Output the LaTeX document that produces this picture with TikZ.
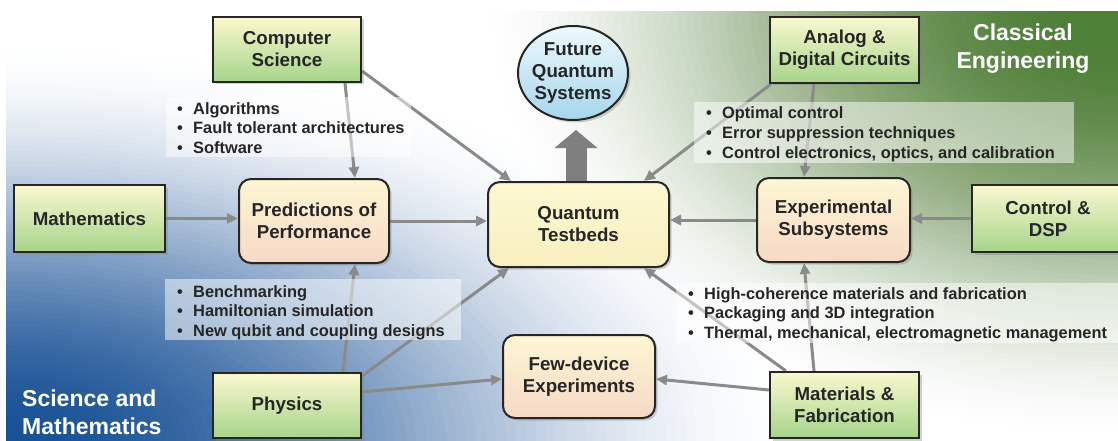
\documentclass[tikz,border=0pt]{standalone}
\usepackage{fontspec}
\setmainfont{Liberation Sans}
\usetikzlibrary{arrows.meta,shapes.geometric,shadows,calc}

\definecolor{sblue}{HTML}{1A5296}
\definecolor{sgreen}{HTML}{4F8038}
\definecolor{agray}{HTML}{8A8A8A}
\definecolor{bgray}{HTML}{7F7F7F}
\definecolor{gtop}{HTML}{FBF8D0}
\definecolor{gbot}{HTML}{A6D48A}
\definecolor{ptop}{HTML}{FDF6D4}
\definecolor{pbot}{HTML}{F6D9C5}
\definecolor{ytop}{HTML}{FCF8D2}
\definecolor{ybot}{HTML}{F8EFBF}
\definecolor{etop}{HTML}{EEF9FD}
\definecolor{ebot}{HTML}{A5D5EB}
\definecolor{txt}{HTML}{262626}

\pgfdeclarelayer{bg}
\pgfdeclarelayer{lines}
\pgfdeclarelayer{panes}
\pgfsetlayers{bg,lines,panes,main}

\newcommand\bulletline[4]{%
  \node[btxt, anchor=base west] (#1) at (#2,#3) {#4};
  \node[btxt, anchor=base east] (#1b) at ($(#1.base west)+(-10,0)$) {\textbullet};}

\begin{document}
\begin{tikzpicture}[x=1pt,y=-1pt,
  nbase/.style={draw=black!85, line width=2pt, text=txt, align=center, inner sep=0pt,
    font=\fontsize{18.7}{22}\selectfont\bfseries,
    drop shadow={opacity=0.35, shadow xshift=2.5pt, shadow yshift=-2.5pt}},
  gbox/.style={nbase, rectangle, top color=gtop, bottom color=gbot},
  pbox/.style={nbase, rectangle, rounded corners=12pt, top color=ptop, bottom color=pbot},
  ybox/.style={nbase, rectangle, rounded corners=12pt, top color=ytop, bottom color=ybot},
  ebox/.style={nbase, ellipse, top color=etop, bottom color=ebot, inner sep=-4pt,
    minimum width=110pt, minimum height=94pt},
  conn/.style={draw=agray, line width=3pt, -{Triangle[length=11pt,width=10pt]}},
  bigarrow/.style={draw=bgray, line width=21pt, -{Triangle[length=18pt,width=42pt]}},
  pane/.style={fill=white, fill opacity=0.5, draw=none},
  btxt/.style={text=txt, inner sep=0pt, font=\fontsize{16.4}{19.7}\selectfont\bfseries},
  lab/.style={text=white, inner sep=0pt, font=\fontsize{23}{28}\selectfont\bfseries}
]
\useasboundingbox (0,0) rectangle (1118,441);

% background
\begin{pgfonlayer}{bg}
  \fill[white] (0,0) rectangle (1118,441);
  \begin{scope}
    \clip (6,12) rectangle (1118,441);
    \foreach \i in {1,...,80} {
      \pgfmathsetmacro\f{1-(\i-1)/80}
      \pgfmathsetmacro\t{\i/80}
      \pgfmathsetmacro\p{100*(3*\t*\t-2*\t*\t*\t)}
      \fill[sblue!\p!white] (6,441) ellipse [x radius=800*\f, y radius=400*\f];
    }
    \foreach \i in {1,...,80} {
      \pgfmathsetmacro\f{1-(\i-1)/80}
      \pgfmathsetmacro\t{\i/80}
      \pgfmathsetmacro\u{(\i-1)/80}
      \pgfmathsetmacro\sa{3*\t*\t-2*\t*\t*\t}
      \pgfmathsetmacro\sb{3*\u*\u-2*\u*\u*\u}
      \pgfmathsetmacro\a{\i==80 ? 1 : 1-(1-\sa)/(1-\sb)}
      \fill[sgreen, fill opacity=\a] (1118,12) ellipse [x radius=640*\f, y radius=430*\f];
    }
  \end{scope}
\end{pgfonlayer}

% nodes
\node[gbox, minimum width=148pt, minimum height=65pt] (cs) at (287,49.5) {Computer\\Science};
\node[ebox] (fqs) at (573,73) {Future\\Quantum\\Systems};
\node[gbox, minimum width=149pt, minimum height=66pt] (ads) at (844.5,50) {Analog \&\\Digital Circuits};
\node[gbox, minimum width=151pt, minimum height=67pt] (math) at (89.5,218.5) {Mathematics};
\node[pbox, minimum width=150pt, minimum height=84pt] (pred) at (314,221) {Predictions of\\Performance};
\node[ybox, minimum width=181pt, minimum height=85pt] (tb) at (578.5,224.5) {Quantum\\Testbeds};
\node[pbox, minimum width=153pt, minimum height=84pt] (exp) at (833.5,220) {Experimental\\Subsystems};
\node[gbox, minimum width=152pt, minimum height=67pt] (ctrl) at (1048,218.5) {Control \&\\DSP};
\node[pbox, minimum width=152pt, minimum height=83pt] (few) at (579,376.5) {Few-device\\Experiments};
\node[gbox, minimum width=148pt, minimum height=65pt] (phys) at (287,405.5) {Physics};
\node[gbox, minimum width=149pt, minimum height=66pt] (mat) at (844.5,405) {Materials \&\\Fabrication};

\node[lab, align=center] (ce) at (1023,49) {Classical\\Engineering};
\node[lab, align=left, anchor=west] (sm) at (22,412) {Science and\\Mathematics};

\coordinate (bigtip) at (576,130);

% connectors
\begin{pgfonlayer}{lines}
  \draw[bigarrow] (tb.north -| bigtip) -- (bigtip);
  \draw[conn] ($(cs.south)+(58,0)$) -- ($(pred.north)+(41,0)$);
  \draw[conn] ($(cs.south east)+(0,-12)$) -- ($(tb.north west)+(24,0)$);
  \draw[conn] (math.east) -- (math.east -| pred.west);
  \draw[conn] (pred.east) -- (pred.east -| tb.west);
  \draw[conn] ($(ads.south west)+(2,0)$) -- ($(tb.north east)+(-26,0)$);
  \draw[conn] ($(ads.south)+(-30.5,0)$) -- ($(exp.north)+(-29.5,0)$);
  \draw[conn] (exp.west) -- (exp.west -| tb.east);
  \draw[conn] (ctrl.west) -- (ctrl.west -| exp.east);
  \draw[conn] ($(phys.north)+(56,0)$) -- ($(pred.south)+(41,0)$);
  \draw[conn] ($(phys.north east)+(0,4)$) -- ($(tb.south west)+(22,0)$);
  \draw[conn] ($(phys.east)+(0,-13.5)$) -- ($(few.west)+(0,2.5)$);
  \draw[conn] ($(mat.north west)+(17,0)$) -- ($(tb.south east)+(-26,0)$);
  \draw[conn] ($(mat.north)+(-30.5,0)$) -- ($(exp.south)+(-29.5,0)$);
  \draw[conn] ($(mat.west)+(0,-15)$) -- ($(few.east)+(0,2.5)$);
\end{pgfonlayer}

% bullet panes
\begin{pgfonlayer}{panes}
  \fill[pane] (166,97) rectangle (411,157);
  \fill[pane] (694,102) rectangle (1074,163);
  \fill[pane] (165,279) rectangle (461,340);
  \fill[pane] (676,283) rectangle (1118,343);
\end{pgfonlayer}

\bulletline{a1}{193}{114}{Algorithms}
\bulletline{a2}{193}{133.7}{Fault tolerant architectures}
\bulletline{a3}{193}{153.4}{Software}

\bulletline{b1}{722}{119}{Optimal control}
\bulletline{b2}{722}{138.5}{Error suppression techniques}
\bulletline{b3}{722}{158}{Control electronics, optics, and calibration}

\bulletline{c1}{193}{297}{Benchmarking}
\bulletline{c2}{193}{316.5}{Hamiltonian simulation}
\bulletline{c3}{193}{336}{New qubit and coupling designs}

\bulletline{d1}{704}{299}{High-coherence materials and fabrication}
\bulletline{d2}{704}{318.5}{Packaging and 3D integration}
\bulletline{d3}{704}{338.5}{Thermal, mechanical, electromagnetic management}

\end{tikzpicture}
\end{document}
